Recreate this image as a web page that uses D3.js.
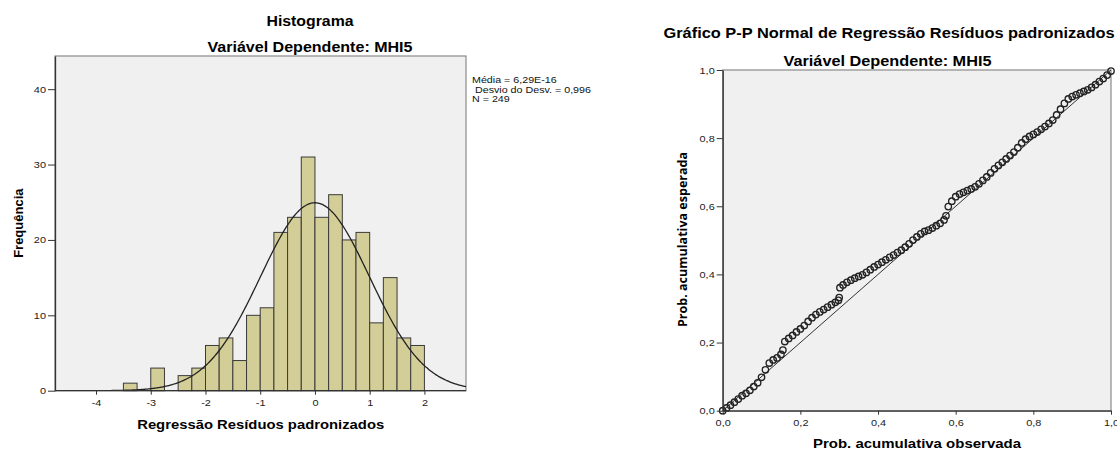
<!DOCTYPE html>
<html>
<head>
<meta charset="utf-8">
<script src="https://cdn.jsdelivr.net/npm/d3@7"></script>
<style>
  html, body { margin: 0; padding: 0; background: #ffffff; }
  svg { display: block; font-family: "Liberation Sans", Arial, sans-serif; }
</style>
</head>
<body>
<svg id="chart" width="1117" height="450"></svg>
<script>
// ---------------- DATA ----------------
// Histogram: lower edge of each 0.25-wide bin and its count
const binStarts = [-3.5, -3.25, -3.0, -2.75, -2.5, -2.25, -2.0, -1.75, -1.5, -1.25, -1.0,
                   -0.75, -0.5, -0.25, 0.0, 0.25, 0.5, 0.75, 1.0, 1.25, 1.5, 1.75];
const binCounts = [1, 0, 3, 0, 2, 3, 6, 7, 4, 10, 11,
                   21, 23, 31, 23, 26, 20, 21, 9, 15, 7, 6];
const binWidth = 0.25;
const statMean = 6.29e-16;
const statSd = 0.996;
const statN = 249;
const legendLines = ["Média = 6,29E-16", " Desvio do Desv. = 0,996", "N = 249"];
const histTicksY = [0, 10, 20, 30, 40];
const histTicksX = [-4, -3, -2, -1, 0, 1, 2];

const ppObserved = [0.00,0.01,0.02,0.03,0.04,0.05,0.06,0.07,0.08,0.09,
  0.10,0.11,0.12,0.13,0.14,0.15,0.155,0.160,0.17,0.18,0.19,
  0.20,0.21,0.22,0.23,0.24,0.25,0.26,0.27,0.28,0.29,0.298,0.300,0.302,
  0.31,0.32,0.33,0.34,0.35,0.36,0.37,0.38,0.39,
  0.40,0.41,0.42,0.43,0.44,0.45,0.46,0.47,0.48,0.49,
  0.50,0.51,0.52,0.53,0.54,0.55,0.56,0.57,0.575,0.581,0.59,
  0.60,0.61,0.62,0.63,0.64,0.65,0.66,0.67,0.68,0.69,
  0.70,0.71,0.72,0.73,0.74,0.75,0.76,0.77,0.78,0.79,
  0.80,0.81,0.82,0.83,0.84,0.85,0.86,0.87,0.88,0.89,
  0.90,0.91,0.92,0.93,0.94,0.95,0.96,0.97,0.98,0.99,1.00];
const ppExpected = [0.000,0.008,0.016,0.025,0.034,0.044,0.051,0.060,0.071,0.082,
  0.098,0.120,0.140,0.149,0.155,0.165,0.178,0.203,0.212,0.221,0.231,
  0.240,0.250,0.262,0.273,0.282,0.290,0.297,0.304,0.311,0.318,0.324,0.332,0.361,
  0.369,0.377,0.383,0.389,0.394,0.399,0.406,0.414,0.422,
  0.429,0.436,0.443,0.450,0.457,0.464,0.471,0.480,0.490,0.501,
  0.510,0.519,0.526,0.530,0.536,0.543,0.550,0.560,0.572,0.599,0.615,
  0.628,0.636,0.641,0.646,0.651,0.657,0.666,0.676,0.686,0.698,
  0.710,0.720,0.729,0.739,0.749,0.759,0.772,0.786,0.797,0.805,
  0.811,0.818,0.826,0.834,0.843,0.853,0.868,0.885,0.902,0.915,
  0.922,0.927,0.932,0.937,0.942,0.949,0.957,0.966,0.975,0.985,0.997];
const ppTicks = [0, 0.2, 0.4, 0.6, 0.8, 1.0];
const ppTickLabels = ["0,0", "0,2", "0,4", "0,6", "0,8", "1,0"];

// ---------------- DRAW ----------------
const svg = d3.select("#chart");
const STRETCH = 1.15;
function stretch(sel, k) {
  sel.each(function () {
    const w = this.getComputedTextLength();
    this.setAttribute("textLength", w * (k || STRETCH));
    this.setAttribute("lengthAdjust", "spacingAndGlyphs");
  });
}
function fitWidth(sel, w) {
  sel.attr("textLength", w).attr("lengthAdjust", "spacingAndGlyphs");
}

// ===== Histogram =====
const H = { left: 55, right: 466, top: 56, bottom: 390.7 };
const hx = d3.scaleLinear().domain([-4.75, 2.76]).range([H.left, H.right]);
const hy = d3.scaleLinear().domain([0, 44.4]).range([H.bottom, H.top]);

svg.append("rect")
  .attr("x", H.left).attr("y", H.top)
  .attr("width", H.right - H.left).attr("height", H.bottom - H.top)
  .attr("fill", "#f0f0f0").attr("stroke", "#8a8a8a").attr("stroke-width", 1.2);

const bins = binStarts.map((s, i) => ({ x0: s, x1: s + binWidth, n: binCounts[i] }))
  .filter(d => d.n > 0);
svg.append("g").selectAll("rect").data(bins).join("rect")
  .attr("x", d => hx(d.x0))
  .attr("y", d => hy(d.n))
  .attr("width", d => hx(d.x1) - hx(d.x0))
  .attr("height", d => hy(0) - hy(d.n))
  .attr("fill", "#d3ce97")
  .attr("stroke", "#3a3a3a")
  .attr("stroke-width", 1);

// normal curve from reported statistics
svg.append("clipPath").attr("id", "hclip").append("rect")
  .attr("x", H.left).attr("y", H.top)
  .attr("width", H.right - H.left).attr("height", H.bottom - H.top);
const curveXs = d3.range(0, 301).map(i => -4.75 + i * (2.76 + 4.75) / 300);
const dens = x => statN * binWidth / (statSd * Math.sqrt(2 * Math.PI)) *
  Math.exp(-0.5 * Math.pow((x - statMean) / statSd, 2));
svg.append("path")
  .datum(curveXs)
  .attr("clip-path", "url(#hclip)")
  .attr("d", d3.line().x(d => hx(d)).y(d => hy(dens(d))).curve(d3.curveBasis))
  .attr("fill", "none").attr("stroke", "#222").attr("stroke-width", 1.3);

// axes
const hyAxis = svg.append("g").attr("transform", `translate(${H.left},0)`)
  .call(d3.axisLeft(hy).tickValues(histTicksY).tickFormat(d => String(d))
    .tickSize(7).tickSizeOuter(0).tickPadding(2));
const hxAxis = svg.append("g").attr("transform", `translate(0,${H.bottom})`)
  .call(d3.axisBottom(hx).tickValues(histTicksX).tickFormat(d => String(d))
    .tickSize(4).tickSizeOuter(0).tickPadding(5));
[hyAxis, hxAxis].forEach(g => {
  g.select(".domain").attr("stroke", "#333").attr("stroke-width", 1.3);
  g.selectAll(".tick line").attr("stroke", "#333");
  g.selectAll(".tick text").attr("font-size", 9.5).attr("fill", "#222")
    .attr("font-family", "'Liberation Sans', Arial, sans-serif");
  stretch(g.selectAll(".tick text"));
});
hxAxis.select(".domain").attr("d", `M${H.left},0H${H.right}`);

// titles and labels
svg.append("text").attr("x", 310).attr("y", 26).attr("text-anchor", "middle")
  .attr("font-size", 14).attr("font-weight", "bold").text("Histograma")
  .call(fitWidth, 87);
svg.append("text").attr("x", 310).attr("y", 51.7).attr("text-anchor", "middle")
  .attr("font-size", 14).attr("font-weight", "bold").text("Variável Dependente: MHI5")
  .call(fitWidth, 205);
svg.append("text").attr("x", 260.7).attr("y", 429.3).attr("text-anchor", "middle")
  .attr("font-size", 13).attr("font-weight", "bold").text("Regressão Resíduos padronizados")
  .call(fitWidth, 247);
svg.append("text").attr("transform", "translate(23.3,223.2) rotate(-90)")
  .attr("text-anchor", "middle")
  .attr("font-size", 13).attr("font-weight", "bold").text("Frequência");

// legend stats
svg.append("g").selectAll("text").data(legendLines).join("text")
  .attr("x", 472).attr("y", (d, i) => 83.3 + i * 9.5)
  .attr("font-size", 9.3).attr("fill", "#111")
  .attr("xml:space", "preserve").style("white-space", "pre")
  .text(d => d)
  .call(stretch);

// ===== P-P plot =====
const P = { left: 722.7, right: 1111, top: 70, bottom: 410.7 };
const px = d3.scaleLinear().domain([0, 1]).range([P.left, P.right]);
const py = d3.scaleLinear().domain([0, 1]).range([P.bottom, P.top]);

svg.append("rect")
  .attr("x", P.left).attr("y", P.top)
  .attr("width", P.right - P.left).attr("height", P.bottom - P.top)
  .attr("fill", "#f0f0f0").attr("stroke", "#8a8a8a").attr("stroke-width", 1.2);

svg.append("line")
  .attr("x1", px(0)).attr("y1", py(0)).attr("x2", px(1)).attr("y2", py(1))
  .attr("stroke", "#333").attr("stroke-width", 1);

const pts = ppObserved.map((o, i) => ({ o, e: ppExpected[i] }));
svg.append("g").selectAll("circle").data(pts).join("circle")
  .attr("cx", d => px(d.o)).attr("cy", d => py(d.e)).attr("r", 3.2)
  .attr("fill", "none").attr("stroke", "#222").attr("stroke-width", 1.35);

const pyAxis = svg.append("g").attr("transform", `translate(${P.left},0)`)
  .call(d3.axisLeft(py).tickValues(ppTicks).tickFormat((d, i) => ppTickLabels[i])
    .tickSize(6).tickSizeOuter(0).tickPadding(2));
const pxAxis = svg.append("g").attr("transform", `translate(0,${P.bottom})`)
  .call(d3.axisBottom(px).tickValues(ppTicks).tickFormat((d, i) => ppTickLabels[i])
    .tickSize(4).tickSizeOuter(0).tickPadding(5));
[pyAxis, pxAxis].forEach(g => {
  g.select(".domain").attr("stroke", "#333").attr("stroke-width", 1.3);
  g.selectAll(".tick line").attr("stroke", "#333");
  g.selectAll(".tick text").attr("font-size", 9.5).attr("fill", "#222")
    .attr("font-family", "'Liberation Sans', Arial, sans-serif");
  stretch(g.selectAll(".tick text"));
});

svg.append("text").attr("x", 889).attr("y", 38.3).attr("text-anchor", "middle")
  .attr("font-size", 14).attr("font-weight", "bold")
  .text("Gráfico P-P Normal de Regressão Resíduos padronizados")
  .call(fitWidth, 451);
svg.append("text").attr("x", 887.5).attr("y", 66.3).attr("text-anchor", "middle")
  .attr("font-size", 14).attr("font-weight", "bold").text("Variável Dependente: MHI5")
  .call(fitWidth, 208);
svg.append("text").attr("x", 917).attr("y", 447.5).attr("text-anchor", "middle")
  .attr("font-size", 13).attr("font-weight", "bold").text("Prob. acumulativa observada")
  .call(fitWidth, 208);
svg.append("text").attr("transform", "translate(686.5,239.5) rotate(-90)")
  .attr("text-anchor", "middle")
  .attr("font-family", "'Open Sans', sans-serif")
  .attr("font-size", 12.5).attr("font-weight", "bold").text("Prob. acumulativa esperada")
  .call(fitWidth, 175);
</script>
</body>
</html>
